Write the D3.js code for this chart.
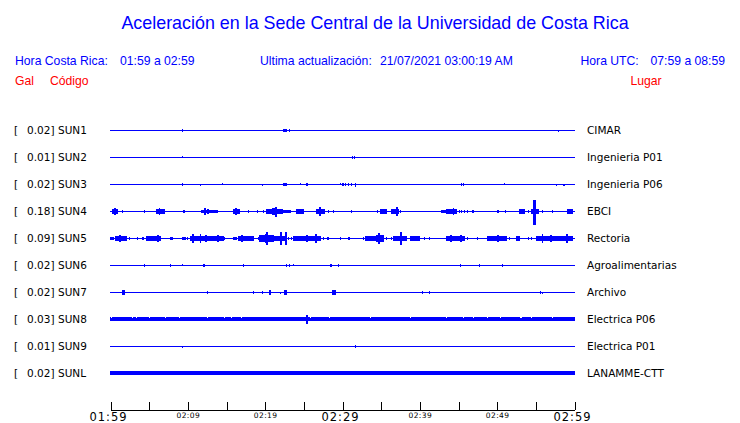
<!DOCTYPE html>
<html>
<head>
<meta charset="utf-8">
<script src="https://cdn.jsdelivr.net/npm/d3@7"></script>
<style>
  html, body { margin: 0; padding: 0; background: #fff; }
  svg { display: block; }
</style>
</head>
<body>
<script>
// ---------------- DATA ----------------
const titleText = "Aceleración en la Sede Central de la Universidad de Costa Rica";
const localRange = "01:59 a 02:59";
const utcRange = "07:59 a 08:59";
const lastUpdate = "21/07/2021 03:00:19 AM";

const stations = ["SUN1", "SUN2", "SUN3", "SUN4", "SUN5", "SUN6", "SUN7", "SUN8", "SUN9", "SUNL"];
const galValues = ["0.02", "0.01", "0.02", "0.18", "0.09", "0.02", "0.02", "0.03", "0.01", "0.02"];
const places = ["CIMAR", "Ingenieria P01", "Ingenieria P06", "EBCI", "Rectoria",
                "Agroalimentarias", "Archivo", "Electrica P06", "Electrica P01", "LANAMME-CTT"];

// background noise level of each trace, upward and downward (fraction of half trace spacing)
const noiseUp = [0, 0, 0, 0, 0, 0, 0, 0.15, 0, 0.15];
const noiseDown = [0, 0, 0, 0, 0, 0, 0, 0.075, 0, 0.075];

const startTime = "01:59";
const endTime = "02:59";
const tickTimes = ["01:59", "02:04", "02:09", "02:14", "02:19", "02:24", "02:29",
                   "02:34", "02:39", "02:44", "02:49", "02:54", "02:59"];
const majorLabels = ["01:59", "02:29", "02:59"];
const minorLabels = ["02:09", "02:19", "02:39", "02:49"];

// events: [start minute, end minute, amplitude up, (amplitude down)]  minutes after 01:59
const sun1Events = [[9.3, 9.3, 0.11], [22.4, 22.7, 0.1], [23.1, 23.1, 0.1], [57.9, 57.9, 0, 0.08]];
const sun2Events = [[9.3, 9.3, 0.08, 0], [31.3, 31.3, 0.09], [31.6, 31.6, 0.09]];
const sun3Events = [[9.3, 9.3, 0.11], [11.7, 11.7, 0, 0.08], [14.5, 14.5, 0.08, 0], [19.7, 19.7, 0, 0.07],
  [22.4, 22.7, 0.1], [24.6, 24.6, 0.07, 0], [25.4, 25.5, 0.09], [29.7, 29.7, 0.07, 0], [30.0, 30.1, 0.1],
  [30.4, 30.4, 0.09], [30.8, 30.8, 0.08], [31.1, 31.2, 0.1], [31.7, 31.7, 0.1, 0.16], [45.4, 45.4, 0.08],
  [45.6, 45.6, 0.08], [51.0, 51.0, 0.07, 0], [57.7, 57.7, 0, 0.07], [58.6, 58.7, 0.02, 0.08]];
const sun4Events = [[0.2, 0.9, 0.13], [0.5, 0.6, 0.19], [1.6, 1.6, 0.11], [4.4, 4.4, 0.08], [5.9, 7.0, 0.13],
  [6.3, 6.4, 0.19], [9.4, 9.4, 0.1], [9.6, 9.6, 0.1], [11.8, 13.8, 0.11], [12.2, 12.3, 0.19],
  [12.6, 12.7, 0.15], [15.9, 16.7, 0.14], [16.2, 16.3, 0.22], [17.8, 17.8, 0.07], [19.0, 19.0, 0.08],
  [19.8, 19.8, 0.08], [20.2, 22.2, 0.14], [21.0, 21.5, 0.2], [21.4, 21.5, 0.32, 0.35], [22.2, 23.3, 0.1],
  [24.1, 24.9, 0.14], [24.4, 24.5, 0.18], [26.7, 27.7, 0.13], [27.0, 27.1, 0.26], [28.2, 28.2, 0.08],
  [28.8, 28.8, 0.07], [31.2, 31.2, 0.07], [34.5, 34.5, 0.1], [34.9, 35.7, 0.14], [35.2, 35.3, 0.17],
  [36.3, 37.3, 0.13], [37.0, 37.1, 0.26], [37.5, 37.5, 0.08], [42.8, 43.4, 0.11], [43.4, 44.7, 0.12],
  [44.3, 44.4, 0.22], [45.1, 45.1, 0.1], [45.4, 45.4, 0.1], [45.8, 45.8, 0.1], [46.2, 46.2, 0.1],
  [46.8, 46.9, 0.11], [50.0, 50.0, 0.1], [50.2, 50.2, 0.1], [51.1, 51.1, 0.07], [52.9, 53.5, 0.13],
  [54.0, 54.0, 0.08], [54.4, 55.3, 0.18], [54.75, 55.0, 0.82, 0.96], [55.8, 55.8, 0.07], [57.2, 57.2, 0.07],
  [59.1, 59.8, 0.14]];
const sun5Events = [[0, 0.35, 0.11], [0.6, 2.1, 0.14], [1.2, 1.3, 0.24], [2.5, 2.5, 0.08], [3.5, 3.5, 0.08],
  [4.1, 4.3, 0.11], [4.6, 6.5, 0.14], [6.1, 6.2, 0.22], [7.7, 8.0, 0.11], [9.3, 9.7, 0.11], [10.0, 10.0, 0.08],
  [10.3, 11.0, 0.15], [10.6, 10.7, 0.26], [11.0, 14.6, 0.14], [11.6, 11.7, 0.26], [12.3, 12.4, 0.2],
  [13.9, 14.0, 0.19], [14.8, 14.8, 0.08], [15.9, 16.3, 0.11], [16.6, 18.5, 0.14], [17.0, 17.1, 0.22],
  [19.1, 19.1, 0.08], [19.3, 21.1, 0.22], [20.0, 20.3, 0.33], [20.2, 20.3, 0.44], [21.1, 22.8, 0.14],
  [22.0, 22.1, 0.44], [22.6, 22.7, 0.44], [23.0, 23.0, 0.08], [23.4, 23.4, 0.08], [23.6, 27.1, 0.14],
  [25.4, 25.5, 0.22], [26.5, 26.6, 0.3], [27.5, 27.6, 0.1], [28.1, 28.2, 0.1], [29.7, 29.7, 0.08],
  [30.8, 30.9, 0.11], [32.7, 32.7, 0.08], [33.0, 34.4, 0.15], [34.4, 35.3, 0.2], [34.7, 34.8, 0.37],
  [35.7, 35.7, 0.08], [36.4, 36.4, 0.08], [36.6, 38.3, 0.15], [37.5, 37.6, 0.44], [38.8, 40.0, 0.14],
  [40.6, 40.6, 0.07], [41.3, 41.3, 0.08], [43.4, 45.8, 0.14], [44.0, 44.1, 0.22], [45.3, 45.4, 0.22],
  [46.1, 46.1, 0.08], [47.5, 47.5, 0.11], [48.8, 51.2, 0.13], [50.1, 50.2, 0.19], [51.6, 51.6, 0.08],
  [52.5, 52.9, 0.18], [54.0, 54.0, 0.08], [54.4, 54.4, 0.08], [55.1, 59.8, 0.14], [55.8, 55.9, 0.3],
  [56.9, 57.0, 0.22], [59.0, 59.1, 0.3]];
const sun6Events = [[4.4, 4.4, 0.1], [7.7, 7.8, 0.1], [9.3, 9.3, 0.08, 0], [12.0, 12.1, 0.1], [17.2, 17.2, 0.1],
  [22.7, 22.7, 0.1], [23.1, 23.1, 0.1], [23.7, 23.7, 0.08, 0], [28.5, 28.6, 0.1], [29.5, 29.5, 0.1],
  [45.2, 45.2, 0.1], [47.7, 47.7, 0.1], [50.7, 50.7, 0.1]];
const sun7Events = [[1.6, 1.8, 0.12], [12.5, 12.6, 0.11], [18.5, 18.5, 0.1], [19.7, 19.7, 0.1],
  [20.5, 20.7, 0.15], [22.0, 22.0, 0, 0.07], [22.5, 22.7, 0.12], [28.7, 29.1, 0.12], [40.3, 40.4, 0.1],
  [41.2, 41.3, 0.11], [55.6, 55.6, 0.1], [55.9, 55.9, 0, 0.07]];
const sun8Events = [[25.3, 25.5, 0.3]];
const sun9Events = [[9.3, 9.3, 0, 0.07], [31.7, 31.7, 0.1]];
const sunLEvents = [];
const stationEvents = [sun1Events, sun2Events, sun3Events, sun4Events, sun5Events,
                       sun6Events, sun7Events, sun8Events, sun9Events, sunLEvents];

// quiet instants in the SUN8 noise band (minutes after 01:59)
const sun8Quiet = [0.13, 2.9, 3.3, 5.1, 7.1, 8.9, 12.5, 14.8, 15.7, 16.9, 25.8, 28.3, 33.6,
                   38.8, 43.4, 45.7, 47.0, 48.8, 50.4, 53.0, 53.2, 54.5, 57.1];

// ---------------- CHART ----------------
const W = 740, H = 423;
const BLUE = "#0000ff", RED = "#ff0000";
const headFont = "'Liberation Sans', Arial, Helvetica, sans-serif";
const traceFont = "'DejaVu Sans', Verdana, sans-serif";

const svg = d3.select("body").append("svg")
  .attr("width", W).attr("height", H)
  .style("background", "#fff");

const parseT = d3.timeParse("%H:%M");
const t0 = parseT(startTime), t1 = parseT(endTime);
const x = d3.scaleTime().domain([t0, t1]).range([110.5, 574.5]);
const tAt = m => new Date(t0.getTime() + m * 60000);
const y = d3.scalePoint().domain(stations).range([130.5, 373.5]);
const amp = d3.scaleLinear().domain([0, 1]).range([0, 13.5]);

// Header texts
svg.append("text").attr("x", 375).attr("y", 29).attr("text-anchor", "middle")
  .attr("font-family", headFont).attr("font-size", 17.9).attr("fill", BLUE).text(titleText);

const header = [
  { t: "Hora Costa Rica:", x: 15, y: 65, c: BLUE },
  { t: localRange, x: 120, y: 65, c: BLUE },
  { t: "Ultima actualización:", x: 260, y: 65, c: BLUE },
  { t: lastUpdate, x: 380, y: 65, c: BLUE },
  { t: "Hora UTC:", x: 580.5, y: 65, c: BLUE },
  { t: utcRange, x: 650.5, y: 65, c: BLUE },
  { t: "Gal", x: 15, y: 85, c: RED },
  { t: "Código", x: 50, y: 85, c: RED },
  { t: "Lugar", x: 630.5, y: 85, c: RED }
];
svg.append("g").selectAll("text").data(header).join("text")
  .attr("x", d => d.x).attr("y", d => d.y)
  .attr("font-family", headFont).attr("font-size", 12.2).attr("fill", d => d.c)
  .text(d => d.t);

// Trace labels
const lab = svg.append("g").attr("font-family", traceFont).attr("font-size", 10.5).attr("fill", "#000");
stations.forEach((s, i) => {
  const yy = y(s) - 0.5 + 4;
  lab.append("text").attr("x", 14).attr("y", yy).text("[");
  lab.append("text").attr("x", 27).attr("y", yy).text(galValues[i] + "]");
  lab.append("text").attr("x", 58).attr("y", yy).text(s);
  lab.append("text").attr("x", 587).attr("y", yy).text(places[i]);
});

// Traces
const traces = svg.append("g").attr("fill", BLUE).attr("shape-rendering", "crispEdges");
const xs = Math.floor(x(t0)), xe = Math.ceil(x(t1));
stations.forEach((s, i) => {
  const r = y(s) - 0.5;               // top of 1px base line
  const g = traces.append("g");
  const nu = amp(noiseUp[i]), nd = amp(noiseDown[i]);
  g.append("rect").attr("x", xs).attr("width", xe - xs)
    .attr("y", r - nu).attr("height", 1 + nu + nd);
  g.selectAll("rect.ev").data(stationEvents[i]).join("rect").attr("class", "ev")
    .attr("x", d => Math.floor(x(tAt(d[0]))))
    .attr("width", d => Math.max(Math.ceil(x(tAt(d[1]))) - Math.floor(x(tAt(d[0]))), 1))
    .attr("y", d => r - amp(d[2]))
    .attr("height", d => 1 + amp(d[2]) + amp(d.length > 3 ? d[3] : d[2]));
  if (s === "SUN8") {
    const q = g.append("g").attr("fill", "#fff");
    q.selectAll("rect.qt").data(sun8Quiet).join("rect").attr("class", "qt")
      .attr("x", d => Math.floor(x(tAt(d)))).attr("width", 1)
      .attr("y", r - nu).attr("height", 1);
  }
});

// Time axis
const tickVals = tickTimes.map(parseT);
const axis = d3.axisBottom(x).tickValues(tickVals).tickSizeInner(-8).tickSizeOuter(0).tickFormat("");
const ax = svg.append("g").attr("transform", "translate(0,409.5)").call(axis);
ax.select(".domain").attr("stroke", "#000").attr("shape-rendering", "crispEdges");
ax.selectAll(".tick line").attr("stroke", "#000").attr("shape-rendering", "crispEdges");

const axLab = svg.append("g").attr("font-family", traceFont).attr("fill", "#000").attr("text-anchor", "middle");
axLab.selectAll("text.maj").data(majorLabels).join("text").attr("class", "maj")
  .attr("x", d => x(parseT(d)) - 2).attr("y", 420.5)
  .attr("font-size", 11.5).attr("letter-spacing", 1).text(d => d);
axLab.selectAll("text.min").data(minorLabels).join("text").attr("class", "min")
  .attr("x", d => x(parseT(d)) + 0.5).attr("y", 417.5)
  .attr("font-size", 7.5).attr("letter-spacing", 0.4).text(d => d);
</script>
</body>
</html>
